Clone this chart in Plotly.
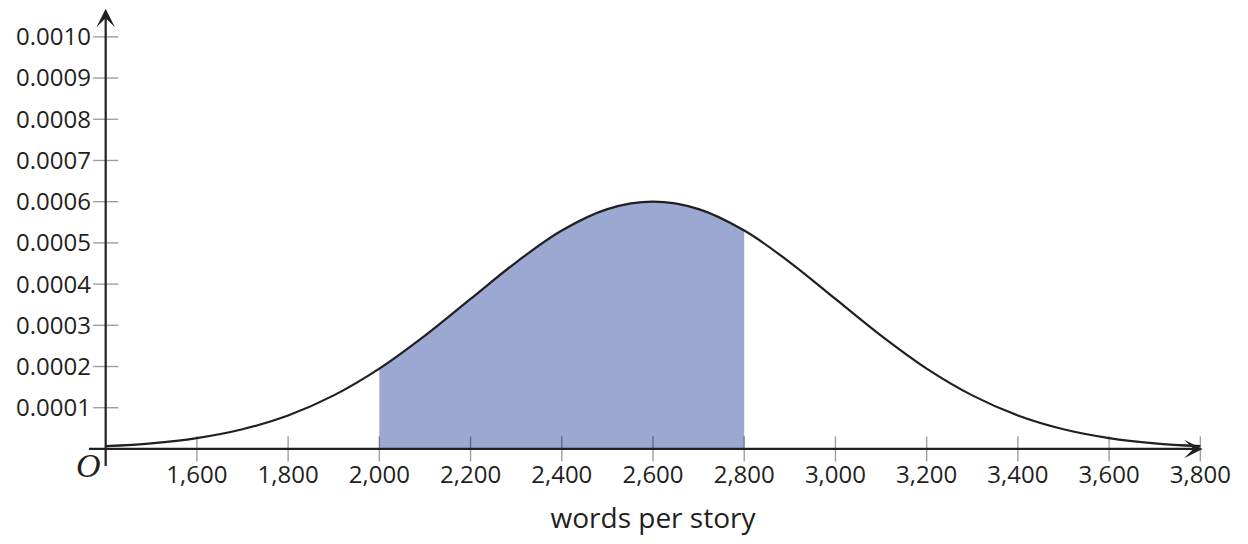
import plotly.graph_objects as go

# Data
words = [1400, 1500, 1600, 1700, 1800, 1900, 2000, 2100, 2200, 2300, 2400, 2500, 2600,
         2700, 2800, 2900, 3000, 3100, 3200, 3300, 3400, 3500, 3600, 3700, 3800]
density = [0.0000067, 0.0000137, 0.0000264, 0.0000478, 0.0000812, 0.000130, 0.000195,
           0.000275, 0.000364, 0.000453, 0.000530, 0.000582, 0.000600,
           0.000582, 0.000530, 0.000453, 0.000364, 0.000275, 0.000195, 0.000130,
           0.0000812, 0.0000478, 0.0000264, 0.0000137, 0.0000067]
shade_from, shade_to = 2000, 2800

x_ticks = [1600, 1800, 2000, 2200, 2400, 2600, 2800, 3000, 3200, 3400, 3600, 3800]
x_tick_text = ["1,600", "1,800", "2,000", "2,200", "2,400", "2,600", "2,800",
               "3,000", "3,200", "3,400", "3,600", "3,800"]
y_ticks = [0.0001, 0.0002, 0.0003, 0.0004, 0.0005, 0.0006, 0.0007, 0.0008, 0.0009, 0.0010]
y_tick_text = ["0.0001", "0.0002", "0.0003", "0.0004", "0.0005", "0.0006",
               "0.0007", "0.0008", "0.0009", "0.0010"]
x_title = "words per story"

INK = "#231f20"
FILL = "#9ba9d2"
TICK = "rgba(0,0,0,0.38)"
FONT = "Open Sans"

x_min, x_max = 1370, 3830
y_min, y_max = -0.000022, 0.00107
y_axis_tail = -0.000045
x_origin = 1400

shade_x = [w for w in words if shade_from <= w <= shade_to]
shade_y = [d for w, d in zip(words, density) if shade_from <= w <= shade_to]

fig = go.Figure()

fig.add_trace(go.Scatter(
    x=shade_x, y=shade_y, mode="lines", fill="tozeroy", fillcolor=FILL,
    line=dict(width=0, color=FILL, shape="spline"), hoverinfo="skip", showlegend=False))

# tick marks crossing the axes
fig.add_trace(go.Scatter(
    x=x_ticks, y=[0] * len(x_ticks), mode="markers", cliponaxis=False,
    marker=dict(symbol="line-ns", size=18, line=dict(width=1.4, color=TICK)),
    hoverinfo="skip", showlegend=False))
fig.add_trace(go.Scatter(
    x=[x_origin] * len(y_ticks), y=y_ticks, mode="markers", cliponaxis=False,
    marker=dict(symbol="line-ew", size=18, line=dict(width=1.4, color=TICK)),
    hoverinfo="skip", showlegend=False))

fig.add_trace(go.Scatter(
    x=words, y=density, mode="lines",
    line=dict(color=INK, width=2.2, shape="spline"), hoverinfo="skip", showlegend=False))

# axes with arrows
fig.add_annotation(x=3805, y=0, ax=1360, ay=0, xref="x", yref="y", axref="x", ayref="y",
                   showarrow=True, arrowhead=3, arrowsize=1.4, arrowwidth=2.2,
                   arrowcolor=INK, text="")
fig.add_annotation(x=x_origin, y=0.001068, ax=x_origin, ay=y_axis_tail, xref="x", yref="y",
                   axref="x", ayref="y", showarrow=True, arrowhead=3, arrowsize=1.4,
                   arrowwidth=2.2, arrowcolor=INK, text="")
fig.add_annotation(x=x_origin, y=0, xshift=-17, yshift=-17, xref="x", yref="y",
                   text="<i>O</i>", showarrow=False,
                   font=dict(family="Liberation Serif", size=34, color=INK))

fig.update_xaxes(range=[x_min, x_max], showgrid=False, zeroline=False, showline=False,
                 tickvals=x_ticks, ticktext=x_tick_text, ticks="",
                 tickfont=dict(family=FONT, size=24, color=INK),
                 title=dict(text=x_title, font=dict(family=FONT, size=28, color=INK),
                            standoff=19))
fig.update_yaxes(range=[y_min, y_max], showgrid=False, zeroline=False, showline=False,
                 tickvals=y_ticks, ticktext=y_tick_text, ticks="",
                 tickfont=dict(family=FONT, size=24, color=INK))

fig.update_layout(width=1240, height=536, plot_bgcolor="white", paper_bgcolor="white",
                  margin=dict(l=84, r=34, t=0, b=86, autoexpand=False), showlegend=False)

fig.write_html("out.html")
